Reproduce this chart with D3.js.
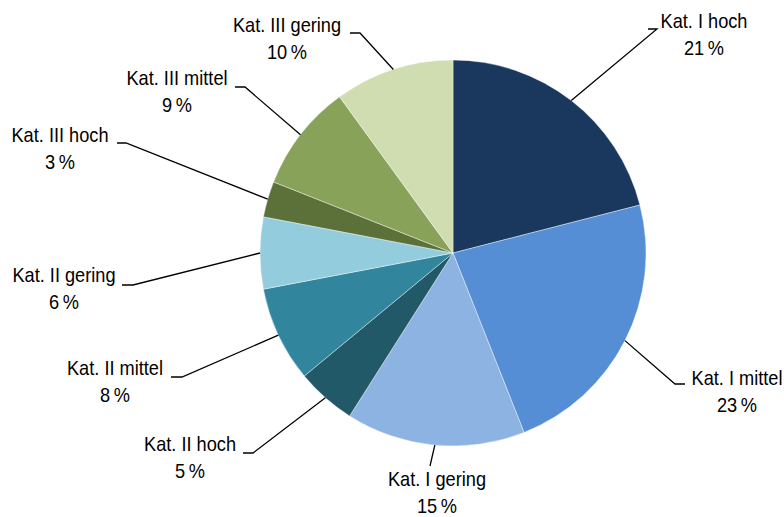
<!DOCTYPE html>
<html>
<head>
<meta charset="utf-8">
<script src="https://cdn.jsdelivr.net/npm/d3@7"></script>
<style>
  body { margin: 0; background: #fff; }
  text { font-family: "Liberation Sans", Arial, sans-serif; font-size: 20px; fill: #000; }
</style>
</head>
<body>
<div id="chart"></div>
<script>
const categories = ["Kat. I hoch", "Kat. I mittel", "Kat. I gering",
    "Kat. II hoch", "Kat. II mittel", "Kat. II gering",
    "Kat. III hoch", "Kat. III mittel", "Kat. III gering"];
const shares = [21, 23, 15, 5, 8, 6, 3, 9, 10];
const colors = ["#1a385e", "#558ed5", "#8db3e2", "#215968", "#31859c",
    "#93cddd", "#5b7139", "#88a25a", "#d0ddb1"];

const CTX = {
    SVG_W: 784,
    SVG_H: 517,
    CX: 453,
    CY: 253,
    R: 193,
    SX: 0.91,       // narrow the font horizontally
    LINE_H: 27.5
};

// label layout: text centre x, first baseline y, elbow point, end of short horizontal tick
const labelPos = [
    {x: 704, y: 28, ex: 657, ey: 29, hx: 648},
    {x: 737, y: 385, ex: 675, ey: 384, hx: 685},
    {x: 437, y: 486, ex: 430, ey: 466, hx: null},
    {x: 190, y: 451, ex: 253, ey: 453, hx: 243},
    {x: 115, y: 375, ex: 182, ey: 377, hx: 171},
    {x: 64, y: 282, ex: 133, ey: 285, hx: 122},
    {x: 60, y: 142, ex: 126, ey: 143, hx: 117},
    {x: 177, y: 85, ex: 245, ey: 87, hx: 235},
    {x: 287, y: 32, ex: 360, ey: 33, hx: 350}
];

function buildPie() {
    const svg = d3.select("#chart").append("svg")
        .attr("width", CTX.SVG_W)
        .attr("height", CTX.SVG_H);
    const g = svg.append("g").attr("transform", `translate(${CTX.CX},${CTX.CY})`);

    const pie = d3.pie().sort(null).value(d => d);
    const arcs = pie(shares);
    const arc = d3.arc().innerRadius(0).outerRadius(CTX.R);

    g.selectAll("path.slice")
        .data(arcs)
        .enter()
        .append("path")
        .attr("class", "slice")
        .attr("d", arc)
        .style("fill", (d, i) => colors[i])
        .style("stroke", "#fff")
        .style("stroke-width", 0.4);

    // leader lines + labels
    arcs.forEach(function (d, i) {
        const a = (d.startAngle + d.endAngle) / 2;
        const px = CTX.CX + CTX.R * Math.sin(a);
        const py = CTX.CY - CTX.R * Math.cos(a);
        const lp = labelPos[i];
        let pts = [[px, py], [lp.ex, lp.ey]];
        if (lp.hx !== null) pts.push([lp.hx, lp.ey]);
        svg.append("path")
            .attr("d", d3.line()(pts))
            .style("fill", "none")
            .style("stroke", "#000")
            .style("stroke-width", 1.3);
        const t = svg.append("g")
            .attr("transform", `translate(${lp.x},${lp.y}) scale(${CTX.SX},1)`)
            .append("text")
            .attr("text-anchor", "middle");
        t.append("tspan").attr("x", 0).attr("y", 0).text(categories[i]);
        t.append("tspan").attr("x", 0).attr("y", CTX.LINE_H).text(shares[i] + "\u2009%");
    });
}

buildPie();
</script>
</body>
</html>
